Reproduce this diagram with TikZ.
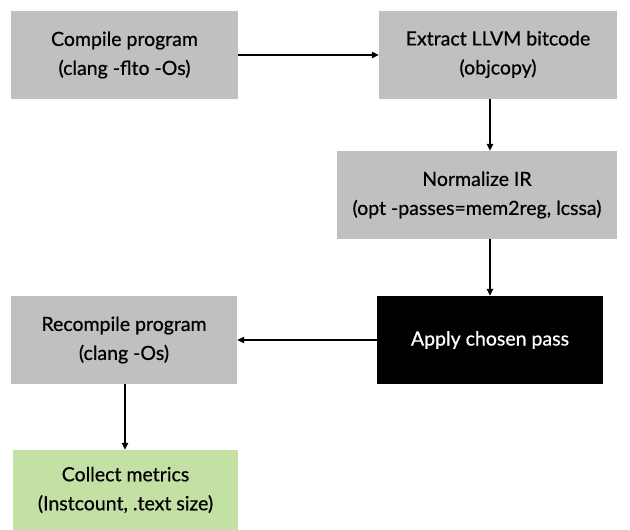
\documentclass[tikz,border=0pt]{standalone}
\usepackage{fontspec}
\setmainfont{Lato}[FakeBold=0.6]
\usetikzlibrary{arrows.meta}
\definecolor{boxgray}{HTML}{C0C0C0}
\definecolor{boxgreen}{HTML}{C5E0A5}
\begin{document}
\begin{tikzpicture}[x=1pt,y=-1pt,
  box/.style={draw=none,fill=boxgray,minimum width=#1,minimum height=88pt,inner sep=0pt,align=center,
    font=\fontsize{19.5}{29}\selectfont},
  box/.default=227pt,
  conn/.style={draw=black,line width=1.1pt,-{Triangle[length=7pt,width=6.5pt]}}]
\useasboundingbox (0,0) rectangle (630,530);
\node[box=227pt] (compile) at (124.5,55) {Compile program\\(clang -flto -Os)};
\node[box=238pt] (extract) at (498,54.5) {Extract LLVM bitcode\\(objcopy)};
\node[box=280pt] (norm) at (477,195) {Normalize IR\\(opt -passes=mem2reg, lcssa)};
\node[box=226pt,fill=black,text=white] (apply) at (490,340) {Apply chosen pass};
\node[box=226pt] (recomp) at (124,340) {Recompile program\\(clang -Os)};
\node[box=225pt,fill=boxgreen,minimum height=80pt] (collect) at (125.5,490) {Collect metrics\\(Instcount, .text size)};
\draw[conn] (compile.east) -- (extract.west |- compile.east);
\draw[conn] (extract.south -| 490,0) -- (norm.north -| 490,0);
\draw[conn] (norm.south -| 490,0) -- (apply.north);
\draw[conn] (apply.west) -- (recomp.east);
\draw[conn] (recomp.south -| 125,0) -- (collect.north -| 125,0);
\end{tikzpicture}
\end{document}
